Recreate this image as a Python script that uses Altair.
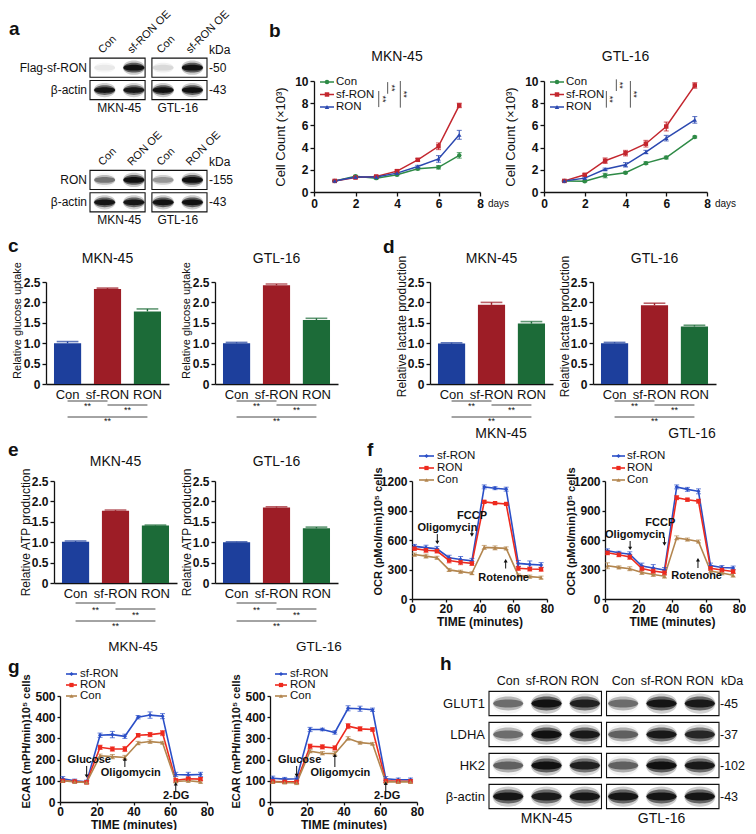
import altair as alt
import pandas as pd

FONT = "Liberation Sans"
INK = "#111111"
DUMMY = pd.DataFrame({"k": [0]})

# ============================ DATA ============================
CELL_LINES = ["MKN-45", "GTL-16"]

# --- a: western blots (relative band intensity, 0..1)
A_ROWS = ["hdr1", "flag", "actin1", "lbl1", "gap", "hdr2", "ron", "actin2", "lbl2"]
A_BOX_ROWS = ["flag", "actin1", "ron", "actin2"]
A_ROW_NAMES = ["Flag-sf-RON", "β-actin", "RON", "β-actin"]
A_KDA = ["-50", "-43", "-155", "-43"]
A_LANES = ["Con", "OE"]
A_TOP_LANE_TEXT = ["Con", "sf-RON OE"]
A_BOT_LANE_TEXT = ["Con", "RON OE"]
A_MKN_BANDS = {"flag": [0.06, 1.0], "actin1": [0.95, 0.92], "ron": [0.42, 1.0], "actin2": [0.95, 0.95]}
A_GTL_BANDS = {"flag": [0.10, 1.0], "actin1": [1.0, 1.0], "ron": [0.30, 1.0], "actin2": [1.0, 1.0]}

# --- b: cell counts (x10^3)
B_SERIES = ["Con", "sf-RON", "RON"]
B_COLORS = ["#2e8a46", "#c3262e", "#2b48b0"]
B_SHAPES = ["circle", "square", "triangle-up"]
B_DAYS_MKN = [1, 2, 3, 4, 5, 6, 7]
B_DAYS_GTL = [1, 2, 3, 4, 5, 6, 7.4]
B_MKN = {"Con": [1.0, 1.42, 1.25, 1.55, 2.1, 2.22, 3.3],
         "sf-RON": [1.0, 1.3, 1.4, 1.88, 2.9, 4.12, 7.8],
         "RON": [1.0, 1.35, 1.35, 1.7, 2.3, 2.98, 5.15]}
B_MKN_ERR = {"Con": [0.05, 0.08, 0.08, 0.08, 0.1, 0.15, 0.25],
             "sf-RON": [0.05, 0.08, 0.08, 0.1, 0.12, 0.3, 0.2],
             "RON": [0.05, 0.08, 0.08, 0.1, 0.1, 0.3, 0.4]}
B_GTL = {"Con": [1.0, 0.96, 1.48, 1.74, 2.6, 3.1, 4.95],
         "sf-RON": [1.0, 1.55, 2.82, 3.5, 4.35, 5.9, 9.6],
         "RON": [1.0, 1.25, 2.05, 2.45, 3.6, 4.85, 6.5]}
B_GTL_ERR = {"Con": [0.05, 0.05, 0.2, 0.08, 0.12, 0.12, 0.08],
             "sf-RON": [0.05, 0.1, 0.25, 0.25, 0.3, 0.4, 0.25],
             "RON": [0.05, 0.08, 0.1, 0.2, 0.15, 0.25, 0.3]}
B_SIG_MKN = [(3.12, 7.65, 9.1), (3.55, 8.85, 9.9), (4.16, 7.6, 10.0)]
B_SIG_GTL = [(3.06, 7.6, 9.1), (3.55, 9.1, 10.15), (4.24, 7.6, 10.0)]

# --- c, d, e: relative glucose uptake / lactate / ATP
BAR_GROUPS = ["Con", "sf-RON", "RON"]
BAR_COLORS = ["#1d3f9c", "#9d1d26", "#1c6b38"]
C_VALUES = {"MKN-45": [1.00, 2.33, 1.78], "GTL-16": [1.00, 2.42, 1.57]}
C_ERRORS = {"MKN-45": [0.04, 0.02, 0.06], "GTL-16": [0.02, 0.03, 0.04]}
D_VALUES = {"MKN-45": [0.99, 1.94, 1.48], "GTL-16": [1.00, 1.93, 1.41]}
D_ERRORS = {"MKN-45": [0.02, 0.06, 0.05], "GTL-16": [0.02, 0.05, 0.03]}
E_VALUES = {"MKN-45": [1.01, 1.77, 1.41], "GTL-16": [1.00, 1.85, 1.34]}
E_ERRORS = {"MKN-45": [0.02, 0.02, 0.01], "GTL-16": [0.01, 0.02, 0.03]}
SIG_PAIRS = [("Con", "sf-RON"), ("sf-RON", "RON"), ("Con", "RON")]

# --- f: OCR, g: ECAR
SH_SERIES = ["sf-RON", "RON", "Con"]
SH_COLORS = ["#2b4fc7", "#ee2a1e", "#b3864f"]
SH_SHAPES = ["diamond", "square", "triangle-up"]
F_TIME = [1.5, 8.3, 14.8, 22.0, 28.8, 35.5, 42.8, 49.2, 55.8, 63.0, 69.8, 76.5]
F_MKN = {"sf-RON": [535, 522, 510, 420, 402, 388, 1140, 1127, 1117, 362, 352, 345],
         "RON": [512, 496, 488, 392, 374, 362, 988, 975, 967, 312, 305, 303],
         "Con": [452, 436, 420, 296, 278, 262, 525, 520, 515, 240, 228, 218]}
F_MKN_ERR = {"sf-RON": [20, 25, 25, 25, 30, 25, 20, 15, 20, 30, 35, 25],
             "RON": [15, 20, 20, 25, 25, 20, 15, 10, 10, 20, 20, 20],
             "Con": [15, 20, 15, 15, 15, 15, 20, 20, 15, 15, 15, 15]}
F_GTL = {"sf-RON": [490, 470, 455, 335, 315, 295, 1140, 1115, 1095, 340, 320, 315],
         "RON": [470, 450, 428, 310, 285, 268, 1030, 1010, 995, 312, 295, 280],
         "Con": [338, 322, 308, 270, 250, 232, 622, 605, 585, 285, 265, 242]}
F_GTL_ERR = {"sf-RON": [20, 15, 25, 30, 35, 25, 20, 20, 25, 25, 20, 20],
             "RON": [20, 20, 25, 25, 25, 25, 20, 15, 20, 20, 20, 20],
             "Con": [30, 15, 20, 20, 20, 20, 20, 15, 15, 20, 20, 20]}
F_ARROWS = {"MKN-45": [(15.0, 660, 575), (35.5, 705, 650), (55.5, 310, 390)],
            "GTL-16": [(15.0, 590, 515), (35.5, 630, 560), (55.5, 315, 400)]}
F_LABELS = {"MKN-45": [("Oligomycin", 21.0, 718), ("FCCP", 35.6, 840), ("Rotenone", 54.3, 217)],
            "GTL-16": [("Oligomycin", 17.9, 648), ("FCCP", 33.0, 768), ("Rotenone", 54.7, 232)]}

G_TIME = [1.5, 8.0, 14.5, 21.8, 28.5, 35.3, 42.5, 49.0, 55.8, 63.0, 69.8, 76.5]
G_MKN = {"sf-RON": [110, 100, 95, 315, 318, 310, 400, 410, 405, 130, 128, 130],
         "RON": [100, 97, 93, 258, 250, 250, 315, 318, 325, 102, 110, 108],
         "Con": [100, 95, 92, 218, 214, 210, 278, 285, 280, 97, 100, 95]}
G_MKN_ERR = {"sf-RON": [10, 8, 8, 10, 15, 10, 8, 15, 12, 10, 12, 10],
             "RON": [8, 6, 8, 10, 10, 12, 8, 10, 12, 8, 8, 8],
             "Con": [6, 6, 6, 8, 10, 10, 8, 8, 6, 6, 6, 6]}
G_GTL = {"sf-RON": [112, 108, 110, 342, 342, 328, 442, 440, 435, 110, 105, 105],
         "RON": [97, 95, 95, 263, 260, 255, 358, 345, 342, 100, 98, 98],
         "Con": [95, 92, 90, 240, 230, 228, 300, 280, 275, 95, 95, 95]}
G_GTL_ERR = {"sf-RON": [10, 8, 8, 10, 6, 8, 12, 12, 8, 10, 8, 8],
             "RON": [8, 8, 8, 10, 10, 10, 12, 10, 8, 8, 8, 8],
             "Con": [6, 6, 8, 8, 8, 10, 8, 6, 6, 6, 6, 6]}
G_ARROWS = {"MKN-45": [(14.5, 170, 122), (35.3, 165, 203), (63.0, 50, 86)],
            "GTL-16": [(14.5, 170, 125), (35.3, 165, 220), (63.0, 50, 88)]}
G_LABELS = {"MKN-45": [("Glucose", 15.9, 198), ("Oligomycin", 38.5, 138), ("2-DG", 63.2, 28)],
            "GTL-16": [("Glucose", 16.1, 198), ("Oligomycin", 38.3, 138), ("2-DG", 63.7, 28)]}

# --- h: western blots
H_ROWS = ["GLUT1", "LDHA", "HK2", "β-actin"]
H_KDA = ["-45", "-37", "-102", "-43"]
H_LANES = ["Con", "sf-RON", "RON"]
H_MKN_BANDS = {"GLUT1": [0.45, 1.0, 0.85], "LDHA": [0.45, 1.0, 0.9],
               "HK2": [0.5, 1.0, 0.85], "β-actin": [0.95, 0.9, 0.95]}
H_GTL_BANDS = {"GLUT1": [0.45, 0.95, 0.92], "LDHA": [0.5, 0.9, 0.8],
               "HK2": [0.5, 1.0, 0.9], "β-actin": [0.95, 0.95, 0.95]}

# ============================ HELPERS ============================
CORE_PATH = "M-1,0C-0.95,-0.36,0.95,-0.36,1,0C0.95,0.36,-0.95,0.36,-1,0Z"
MID_PATH = "M-1,0C-0.95,-0.62,0.95,-0.62,1,0C0.95,0.62,-0.95,0.62,-1,0Z"
OUTER_PATH = "M-1.05,0C-1,-0.9,1,-0.9,1.05,0C1,0.9,-1,0.9,-1.05,0Z"


def text_at(txt, x, y, size=12, weight="normal", align="center", baseline="middle", angle=None):
    props = dict(text=txt, fontSize=size, fontWeight=weight, align=align, baseline=baseline, color=INK)
    if angle is not None:
        props["angle"] = angle
    return alt.Chart(DUMMY).mark_text(**props).encode(x=alt.value(x), y=alt.value(y))


def letter(ch, x, y):
    return text_at(ch, x, y, size=19, weight="bold", align="left", baseline="alphabetic")


def frame(y0, y1):
    # invisible rect that fixes the vertical extent of a row
    return alt.Chart(DUMMY).mark_rect(opacity=0).encode(
        x=alt.value(0), x2=alt.value(2), y=alt.value(y0), y2=alt.value(y1))


def spacer(w):
    return alt.Chart(DUMMY).mark_point(opacity=0, size=1).encode(
        x=alt.value(w / 2), y=alt.value(5)).properties(width=w, height=10)


def band_frame(cells_bands, lanes):
    recs = []
    for cell, bands in cells_bands:
        for row, vals in bands.items():
            for lane, v in zip(lanes, vals):
                recs.append({"cell": cell, "key": f"{cell}|{lane}", "row": row,
                             "core": v, "mid": 0.6 * v, "outer": 0.22 * v * v})
    return pd.DataFrame(recs)


def band_layers(df, XL, Y, w):
    out = []
    for path, col in [(OUTER_PATH, "outer"), (MID_PATH, "mid"), (CORE_PATH, "core")]:
        out.append(alt.Chart(df).mark_point(shape=path, filled=True, size=w * w, color=INK,
                                            strokeWidth=0).encode(
            x=XL, y=Y, opacity=alt.Opacity(f"{col}:Q", scale=None)))
    return out


def colour_cols(df, series_col, names, colours, shapes):
    df["colour"] = df[series_col].map(dict(zip(names, colours)))
    df["shape"] = df[series_col].map(dict(zip(names, shapes)))
    return df


AX = dict(labelOverlap=False, labelFlush=False, labelBound=False)


def ticks(values):
    # explicit tick values; tickCount must not thin them out
    return dict(values=values, tickCount=len(values))


# ---------------- panel a ----------------
def blot_a(width=117, height=111):
    keys = [f"{c}|{l}" for c in CELL_LINES for l in A_LANES]
    XC = alt.X("cell:N", scale=alt.Scale(domain=CELL_LINES, paddingInner=0.11, paddingOuter=0), axis=None)
    XL = alt.X("key:N", scale=alt.Scale(domain=keys, paddingInner=0.25, paddingOuter=0), axis=None)
    ys = alt.Scale(domain=A_ROWS, range=[-47, 155], paddingInner=0.15, paddingOuter=0.075)

    def Y(bp=None):
        if bp is None:
            return alt.Y("row:N", scale=ys, axis=None)
        return alt.Y("row:N", scale=ys, axis=None, bandPosition=bp)

    box_df = pd.DataFrame([(c, r) for c in CELL_LINES for r in A_BOX_ROWS], columns=["cell", "row"])
    boxes = alt.Chart(box_df).mark_rect(fill="white", stroke=INK, strokeWidth=1.1).encode(x=XC, y=Y())
    bdf = band_frame([("MKN-45", A_MKN_BANDS), ("GTL-16", A_GTL_BANDS)], A_LANES)
    bands = band_layers(bdf, XL, Y(), 21)

    hdr_recs = []
    for row, texts in [("hdr1", A_TOP_LANE_TEXT), ("hdr2", A_BOT_LANE_TEXT)]:
        for c in CELL_LINES:
            for lane, t in zip(A_LANES, texts):
                hdr_recs.append({"key": f"{c}|{lane}", "row": row, "text": t})
    hdr = alt.Chart(pd.DataFrame(hdr_recs)).mark_text(
        angle=315, align="left", baseline="bottom", fontSize=11, color=INK, dx=-1).encode(
        x=XL, y=Y(1), text="text:N")

    lab_df = pd.DataFrame({"row": A_BOX_ROWS, "name": A_ROW_NAMES, "kda": A_KDA})
    names = alt.Chart(lab_df).mark_text(align="right", baseline="middle", fontSize=12, color=INK).encode(
        x=alt.value(-3), y=Y(), text="name:N")
    kda = alt.Chart(lab_df).mark_text(align="left", baseline="middle", fontSize=12, color=INK).encode(
        x=alt.value(width + 2), y=Y(), text="kda:N")
    kda_head = alt.Chart(pd.DataFrame({"row": ["flag", "ron"]})).mark_text(
        text="kDa", align="left", baseline="bottom", fontSize=12, color=INK, dy=-1).encode(
        x=alt.value(width + 2), y=Y(0))
    cell_df = pd.DataFrame([(c, r) for c in CELL_LINES for r in ["actin1", "actin2"]], columns=["cell", "row"])
    cells = alt.Chart(cell_df).mark_text(baseline="top", fontSize=12, color=INK, dy=3).encode(
        x=XC, y=Y(1), text="cell:N")

    layers = [frame(-73, 152), boxes] + bands + [hdr, names, kda, kda_head, cells, letter("a", -81, -46)]
    return alt.layer(*layers).resolve_scale(x="independent").properties(width=width, height=height)


# ---------------- panel b ----------------
def growth_panel(title, days, vals, errs, sig, width, height, extras=()):
    recs = []
    for s in B_SERIES:
        for d, v, e in zip(days, vals[s], errs[s]):
            recs.append({"series": s, "day": d, "count": v, "lo": v - e, "hi": v + e})
    df = colour_cols(pd.DataFrame(recs), "series", B_SERIES, B_COLORS, B_SHAPES)
    color = alt.Color("colour:N", scale=None)
    x = alt.X("day:Q", scale=alt.Scale(domain=[0, 8], nice=False),
              axis=alt.Axis(title=None, labelFontSize=12, labelFontWeight="bold",
                            tickSize=4, labelPadding=2, **ticks([0, 2, 4, 6, 8]), **AX))
    y = alt.Y("count:Q", scale=alt.Scale(domain=[0, 10], nice=False),
              axis=alt.Axis(title="Cell Count (×10³)", titleFontSize=13,
                            titleFontWeight="normal", titleAngle=270, titleX=-34, titleY=height / 2,
                            titleAlign="center", titleBaseline="middle", labelFontSize=12,
                            labelFontWeight="bold", tickSize=4, labelPadding=2,
                            **ticks([0, 2, 4, 6, 8, 10]), **AX))
    base = alt.Chart(df)
    line = base.mark_line(strokeWidth=1.5).encode(x=x, y=y, color=color)
    err = base.mark_rule(strokeWidth=1.1).encode(x="day:Q", y="lo:Q", y2="hi:Q", color=color)
    cap_hi = base.mark_tick(orient="horizontal", size=5, thickness=1.1).encode(x="day:Q", y="hi:Q", color=color)
    cap_lo = base.mark_tick(orient="horizontal", size=5, thickness=1.1).encode(x="day:Q", y="lo:Q", color=color)
    pts = base.mark_point(filled=True, size=20, opacity=1).encode(
        x="day:Q", y="count:Q", color=color, shape=alt.Shape("shape:N", scale=None))
    layers = [line, err, cap_hi, cap_lo, pts]

    sdf = pd.DataFrame(sig, columns=["day", "lo", "hi"])
    sdf["mid"] = (sdf["lo"] + sdf["hi"]) / 2
    layers.append(alt.Chart(sdf).mark_rule(color="#444", strokeWidth=0.9).encode(x="day:Q", y="lo:Q", y2="hi:Q"))
    layers.append(alt.Chart(sdf).mark_text(text="**", angle=90, fontSize=9, color=INK, dy=-4).encode(
        x="day:Q", y="mid:Q"))

    for i, (s, c, sh) in enumerate(zip(B_SERIES, B_COLORS, B_SHAPES)):
        yy = 1 + 12.5 * i
        layers.append(alt.Chart(DUMMY).mark_rule(color=c, strokeWidth=1.5).encode(
            x=alt.value(6), x2=alt.value(20), y=alt.value(yy)))
        layers.append(alt.Chart(DUMMY).mark_point(shape=sh, filled=True, size=20, color=c, opacity=1).encode(
            x=alt.value(13), y=alt.value(yy)))
        layers.append(text_at(s, 22, yy, size=11.5, align="left"))
    layers.append(text_at(title, width / 2, -24, size=14))
    layers.append(text_at("days", width + 8, height + 12, size=10, align="left"))
    layers += list(extras)
    return alt.layer(*layers).properties(width=width, height=height)


# ---------------- panels c, d, e ----------------
BAR_PAD_IN, BAR_PAD_OUT = 0.32, 0.2


def bar_panel(title, values, errors, ytitle, ytitle_size, title_y, sig_dy, title_dy=-23,
              width=123, height=102, extras=()):
    df = pd.DataFrame({"group": BAR_GROUPS, "value": values, "err": errors})
    df["top"] = df["value"] + df["err"]
    df["colour"] = BAR_COLORS
    step = width / (3 - BAR_PAD_IN + 2 * BAR_PAD_OUT)
    bar_w = step * (1 - BAR_PAD_IN)
    xs = alt.Scale(domain=BAR_GROUPS, paddingInner=BAR_PAD_IN, paddingOuter=BAR_PAD_OUT)
    color = alt.Color("colour:N", scale=None)
    x = alt.X("group:N", scale=xs, axis=alt.Axis(title=None, labelAngle=0, labelFontSize=13,
                                                 labelPadding=4, ticks=False, **AX))
    y = alt.Y("value:Q", scale=alt.Scale(domain=[0, 2.5], nice=False),
              axis=alt.Axis(labelExpr="datum.value == 0 ? '0' : format(datum.value, '.1f')",
                            labelFontSize=12, labelFontWeight="bold", tickSize=4, labelPadding=2,
                            title=ytitle, titleFontSize=ytitle_size, titleFontWeight="normal",
                            titleAngle=270, titleX=-29, titleY=title_y, titleAlign="center",
                            titleBaseline="middle", **ticks([0, 0.5, 1, 1.5, 2, 2.5]), **AX))
    base = alt.Chart(df)
    bars = base.mark_bar().encode(x=x, y=y, color=color)
    err = base.mark_rule(strokeWidth=1.4).encode(x=alt.X("group:N", scale=xs), y="value:Q", y2="top:Q", color=color)
    cap = base.mark_tick(orient="horizontal", thickness=1.6, size=bar_w * 0.8).encode(
        x=alt.X("group:N", scale=xs), y="top:Q", color=color)
    layers = [bars, err, cap]
    for (a, b), (dl, dt) in zip(SIG_PAIRS, sig_dy):
        sd = pd.DataFrame({"a": [a], "b": [b]})
        layers.append(alt.Chart(sd).mark_rule(color="#333", strokeWidth=0.9).encode(
            x=alt.X("a:N", scale=xs), x2="b:N", y=alt.value(height + dl)))
        shift = step * (BAR_GROUPS.index(b) - BAR_GROUPS.index(a)) / 2
        layers.append(alt.Chart(sd).mark_text(text="**", fontSize=9, color=INK, dx=shift).encode(
            x=alt.X("a:N", scale=xs), y=alt.value(height + dt)))
    layers.append(text_at(title, width / 2, title_dy, size=14))
    layers += list(extras)
    return alt.layer(*layers).properties(width=width, height=height)


# ---------------- panels f, g ----------------
def seahorse_panel(times, vals, errs, width, height, ymax, ystep, ytitle, title_y, arrows, labels,
                   leg_rows, leg_x, label_size, extras=()):
    recs = []
    for s in SH_SERIES:
        for t, v, e in zip(times, vals[s], errs[s]):
            recs.append({"series": s, "time": t, "rate": v, "lo": v - e, "hi": v + e})
    df = colour_cols(pd.DataFrame(recs), "series", SH_SERIES, SH_COLORS, SH_SHAPES)
    color = alt.Color("colour:N", scale=None)
    x = alt.X("time:Q", scale=alt.Scale(domain=[0, 80], nice=False),
              axis=alt.Axis(title="TIME (minutes)", titleFontSize=12,
                            titleFontWeight="bold", titlePadding=2, labelFontSize=12,
                            labelFontWeight="bold", labelPadding=1, tickSize=3,
                            **ticks([0, 20, 40, 60, 80]), **AX))
    y = alt.Y("rate:Q", scale=alt.Scale(domain=[0, ymax], nice=False),
              axis=alt.Axis(format="d", title=ytitle,
                            titleFontSize=11, titleFontWeight="bold", titleAngle=270, titleX=-34,
                            titleY=title_y, titleAlign="center", titleBaseline="middle",
                            labelFontSize=12, labelFontWeight="bold", labelPadding=2, tickSize=3,
                            **ticks(list(range(0, ymax + 1, ystep))), **AX))
    base = alt.Chart(df)
    line = base.mark_line(strokeWidth=1.6).encode(x=x, y=y, color=color)
    err = base.mark_rule(strokeWidth=1.0).encode(x="time:Q", y="lo:Q", y2="hi:Q", color=color)
    cap_hi = base.mark_tick(orient="horizontal", size=5, thickness=1).encode(x="time:Q", y="hi:Q", color=color)
    cap_lo = base.mark_tick(orient="horizontal", size=5, thickness=1).encode(x="time:Q", y="lo:Q", color=color)
    pts = base.mark_point(filled=True, size=18, opacity=1).encode(
        x="time:Q", y="rate:Q", color=color, shape=alt.Shape("shape:N", scale=None))
    layers = [line, err, cap_hi, cap_lo, pts]

    adf = pd.DataFrame(arrows, columns=["time", "y0", "y1"])
    adf["head"] = ["triangle-down" if b < a else "triangle-up" for a, b in zip(adf["y0"], adf["y1"])]
    layers.append(alt.Chart(adf).mark_rule(color=INK, strokeWidth=1).encode(x="time:Q", y="y0:Q", y2="y1:Q"))
    layers.append(alt.Chart(adf).mark_point(filled=True, size=16, color=INK, opacity=1).encode(
        x="time:Q", y="y1:Q", shape=alt.Shape("head:N", scale=None)))
    ldf = pd.DataFrame(labels, columns=["text", "time", "yy"])
    layers.append(alt.Chart(ldf).mark_text(fontWeight="bold", fontSize=label_size, color=INK).encode(
        x="time:Q", y="yy:Q", text="text:N"))

    x0, x1, xt = leg_x
    for yy, s, c, sh in zip(leg_rows, SH_SERIES, SH_COLORS, SH_SHAPES):
        layers.append(alt.Chart(DUMMY).mark_rule(color=c, strokeWidth=1.6).encode(
            x=alt.value(x0), x2=alt.value(x1), y=alt.value(yy)))
        layers.append(alt.Chart(DUMMY).mark_point(shape=sh, filled=True, size=18, color=c, opacity=1).encode(
            x=alt.value((x0 + x1) / 2), y=alt.value(yy)))
        layers.append(text_at(s, xt, yy, size=11.5, align="left"))
    layers += list(extras)
    return alt.layer(*layers).properties(width=width, height=height)


# ---------------- panel h ----------------
def blot_h(width=230, height=106):
    keys = [f"{c}|{l}" for c in CELL_LINES for l in H_LANES]
    XC = alt.X("cell:N", scale=alt.Scale(domain=CELL_LINES, paddingInner=0.043, paddingOuter=0), axis=None)
    XL = alt.X("key:N", scale=alt.Scale(domain=keys, paddingInner=0.01, paddingOuter=0), axis=None)
    ys = alt.Scale(domain=H_ROWS, range=[-8, 116], paddingInner=0.22, paddingOuter=0.11)

    def Y(bp=None):
        if bp is None:
            return alt.Y("row:N", scale=ys, axis=None)
        return alt.Y("row:N", scale=ys, axis=None, bandPosition=bp)

    box_df = pd.DataFrame([(c, r) for c in CELL_LINES for r in H_ROWS], columns=["cell", "row"])
    boxes = alt.Chart(box_df).mark_rect(fill="white", stroke=INK, strokeWidth=1.1).encode(x=XC, y=Y())
    bdf = band_frame([("MKN-45", H_MKN_BANDS), ("GTL-16", H_GTL_BANDS)], H_LANES)
    bands = band_layers(bdf, XL, Y(), 30)
    hdr_df = pd.DataFrame([(f"{c}|{l}", l, H_ROWS[0]) for c in CELL_LINES for l in H_LANES],
                          columns=["key", "lane", "row"])
    hdr = alt.Chart(hdr_df).mark_text(baseline="bottom", fontSize=12.5, color=INK, dy=-3).encode(
        x=XL, y=Y(0), text="lane:N")
    lab_df = pd.DataFrame({"row": H_ROWS, "kda": H_KDA})
    names = alt.Chart(lab_df).mark_text(align="right", baseline="middle", fontSize=13, color=INK).encode(
        x=alt.value(-4), y=Y(), text="row:N")
    kda = alt.Chart(lab_df).mark_text(align="left", baseline="middle", fontSize=12.5, color=INK).encode(
        x=alt.value(width + 1), y=Y(), text="kda:N")
    kda_head = alt.Chart(pd.DataFrame({"row": [H_ROWS[0]]})).mark_text(
        text="kDa", align="left", baseline="bottom", fontSize=12.5, color=INK, dy=-3).encode(
        x=alt.value(width + 2), y=Y(0))
    cell_df = pd.DataFrame({"cell": CELL_LINES, "row": [H_ROWS[-1]] * 2})
    cells = alt.Chart(cell_df).mark_text(baseline="top", fontSize=14, color=INK, dy=3).encode(
        x=XC, y=Y(1), text="cell:N")
    layers = [boxes] + bands + [hdr, names, kda, kda_head, cells, letter("h", -49, -26)]
    return alt.layer(*layers).resolve_scale(x="independent").properties(width=width, height=height)


# ============================ ROWS ============================
bM = growth_panel("MKN-45", B_DAYS_MKN, B_MKN, B_MKN_ERR, B_SIG_MKN, 166, 111,
                  extras=[letter("b", -45, -44)])
bG = growth_panel("GTL-16", B_DAYS_GTL, B_GTL, B_GTL_ERR, B_SIG_GTL, 163, 111)
row1 = alt.hconcat(spacer(82), blot_a(), spacer(107), bM, spacer(64), bG, spacing=0, bounds="flush")

SIG_CD = [(17, 22), (21, 26), (33, 37)]
SIG_E = [(20, 27), (26, 32), (38, 43)]
cM = bar_panel("MKN-45", C_VALUES["MKN-45"], C_ERRORS["MKN-45"], "Relative glucose uptake", 11, 38, SIG_CD,
               extras=[frame(-49, 155), letter("c", -38, -30)])
cG = bar_panel("GTL-16", C_VALUES["GTL-16"], C_ERRORS["GTL-16"], "Relative glucose uptake", 11, 38, SIG_CD)
dM = bar_panel("MKN-45", D_VALUES["MKN-45"], D_ERRORS["MKN-45"], "Relative lactate production", 12, 44, SIG_CD,
               extras=[letter("d", -47, -29), text_at("MKN-45", 71, 102 + 50, size=14)])
dG = bar_panel("GTL-16", D_VALUES["GTL-16"], D_ERRORS["GTL-16"], "Relative lactate production", 12, 44, SIG_CD,
               extras=[text_at("GTL-16", 99, 102 + 50, size=14)])
row2 = alt.hconcat(spacer(38), cM, spacer(46), cG, spacer(92), dM, spacer(40), dG, spacing=0, bounds="flush")

eM = bar_panel("MKN-45", E_VALUES["MKN-45"], E_ERRORS["MKN-45"], "Relative ATP production", 12, 51, SIG_E,
               title_dy=-19, extras=[frame(-39, 153), letter("e", -46, -25)])
eG = bar_panel("GTL-16", E_VALUES["GTL-16"], E_ERRORS["GTL-16"], "Relative ATP production", 12, 51, SIG_E,
               title_dy=-19)
OCR_TITLE = "OCR (pMol/min)10⁵ cells"
fM = seahorse_panel(F_TIME, F_MKN, F_MKN_ERR, 135, 118, 1200, 300, OCR_TITLE, 50,
                    F_ARROWS["MKN-45"], F_LABELS["MKN-45"], [-25, -13, -1], (7, 22, 25), 11,
                    extras=[letter("f", -45, -25)])
fG = seahorse_panel(F_TIME, F_GTL, F_GTL_ERR, 134, 118, 1200, 300, OCR_TITLE, 50,
                    F_ARROWS["GTL-16"], F_LABELS["GTL-16"], [-25, -13, -1], (7, 20, 22), 11)
row3 = alt.hconcat(spacer(46), eM, spacer(38), eG, spacer(74), fM, spacer(58), fG, spacing=0, bounds="flush")

ECAR_TITLE = "ECAR (mPH/min)10⁵ cells"
gM = seahorse_panel(G_TIME, G_MKN, G_MKN_ERR, 147, 106, 500, 100, ECAR_TITLE, 45,
                    G_ARROWS["MKN-45"], G_LABELS["MKN-45"], [-22, -11, 0], (6, 17, 20), 11,
                    extras=[frame(-62, 134), letter("g", -52, -23), text_at("MKN-45", 73, -49, size=13.5)])
gG = seahorse_panel(G_TIME, G_GTL, G_GTL_ERR, 147, 106, 500, 100, ECAR_TITLE, 45,
                    G_ARROWS["GTL-16"], G_LABELS["GTL-16"], [-22, -11, 0], (5, 17, 20), 11,
                    extras=[text_at("GTL-16", 49, -49, size=13.5)])
row4 = alt.hconcat(spacer(52), gM, spacer(63), gG, spacer(72), blot_h(), spacing=0, bounds="flush")

chart = (
    alt.vconcat(row1, row2, row3, row4, spacing=0)
    .properties(padding=0, background="white")
    .configure(font=FONT)
    .configure_view(stroke=None)
    .configure_axis(domainColor=INK, tickColor=INK, labelColor=INK, titleColor=INK,
                    domainWidth=1.3, tickWidth=1.3, grid=False, labelFlush=False,
                    labelOverlap=False, labelFont=FONT, titleFont=FONT)
    .configure_text(font=FONT)
)

chart.save("out.html", embed_options={"renderer": "svg", "actions": False})
